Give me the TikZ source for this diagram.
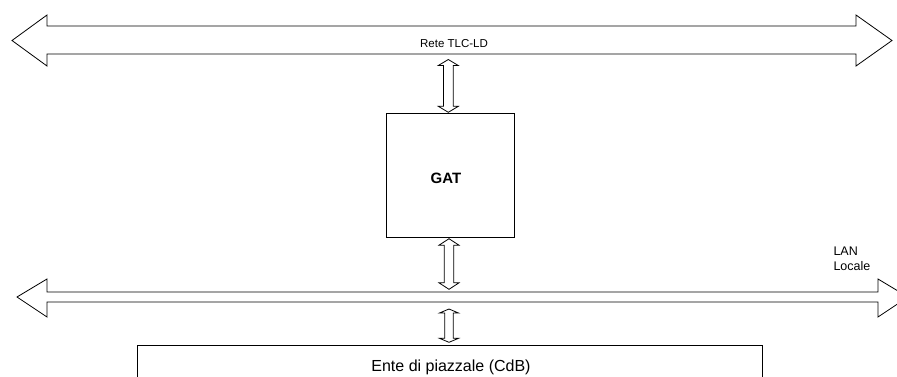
\documentclass[tikz,border=0pt]{standalone}
\usepackage{fontspec}
\setmainfont{Liberation Sans}
\tikzset{
  blockarrow/.style={draw=black, line width=0.8pt, fill=white, line join=miter},
  boxstyle/.style={draw=black, line width=0.8pt, fill=white},
  lbl/.style={inner sep=0pt, anchor=base, text=black}
}
% vertical double block arrow: #1 x centre, #2 top tip y, #3 bottom tip y, #4 shaft half width, #5 head half width, #6 head length
\newcommand\vdblarrow[6]{%
  \draw[blockarrow] (#1,#2) -- (#1+#5,#2+#6) -- (#1+#4,#2+#6) -- (#1+#4,#3-#6)
    -- (#1+#5,#3-#6) -- (#1,#3) -- (#1-#5,#3-#6) -- (#1-#4,#3-#6)
    -- (#1-#4,#2+#6) -- (#1-#5,#2+#6) -- cycle;}
\begin{document}
\begin{tikzpicture}[x=1pt, y=-1pt]
\useasboundingbox (0,0) rectangle (897,376);
\fill[white] (0,0) rectangle (897,376);
\clip (0,0) rectangle (897,376);
% top bus: Rete TLC-LD
\draw[blockarrow] (12,40.5) -- (47,15) -- (47,26) -- (856,26) -- (856,15) -- (892,40.5)
  -- (856,66) -- (856,54) -- (47,54) -- (47,66) -- cycle;
\node[lbl, font=\fontsize{11.5}{14}\selectfont] (rete) at (454,47.5) {Rete TLC-LD};
% GAT box
\node[boxstyle, minimum width=128pt, minimum height=124pt, inner sep=0pt] (gat) at (450,175) {};
\node[lbl, font=\bfseries\fontsize{15}{18}\selectfont] (gatlbl) at (446,183) {GAT};
% LAN bus
\draw[blockarrow] (17,297) -- (47,279) -- (47,292) -- (878,292) -- (878,279) -- (908,297)
  -- (878,317) -- (878,302) -- (47,302) -- (47,317) -- cycle;
\node[lbl, anchor=base west, align=left, font=\fontsize{12.5}{15}\selectfont] (lan) at (833.3,270) {LAN\\Locale};
% Ente box
\node[boxstyle, minimum width=625pt, minimum height=60pt, inner sep=0pt, anchor=north west] (ente) at (137,345) {};
\node[lbl, font=\fontsize{16}{20}\selectfont] (entelbl) at (451,371) {Ente di piazzale (CdB)};
% vertical double arrows
\vdblarrow{448.3}{59.5}{112.3}{4.9}{10}{6}
\vdblarrow{449}{238.7}{289.3}{4.8}{10}{6.5}
\vdblarrow{449}{309}{342.3}{4.2}{9.5}{4}
\end{tikzpicture}
\end{document}
